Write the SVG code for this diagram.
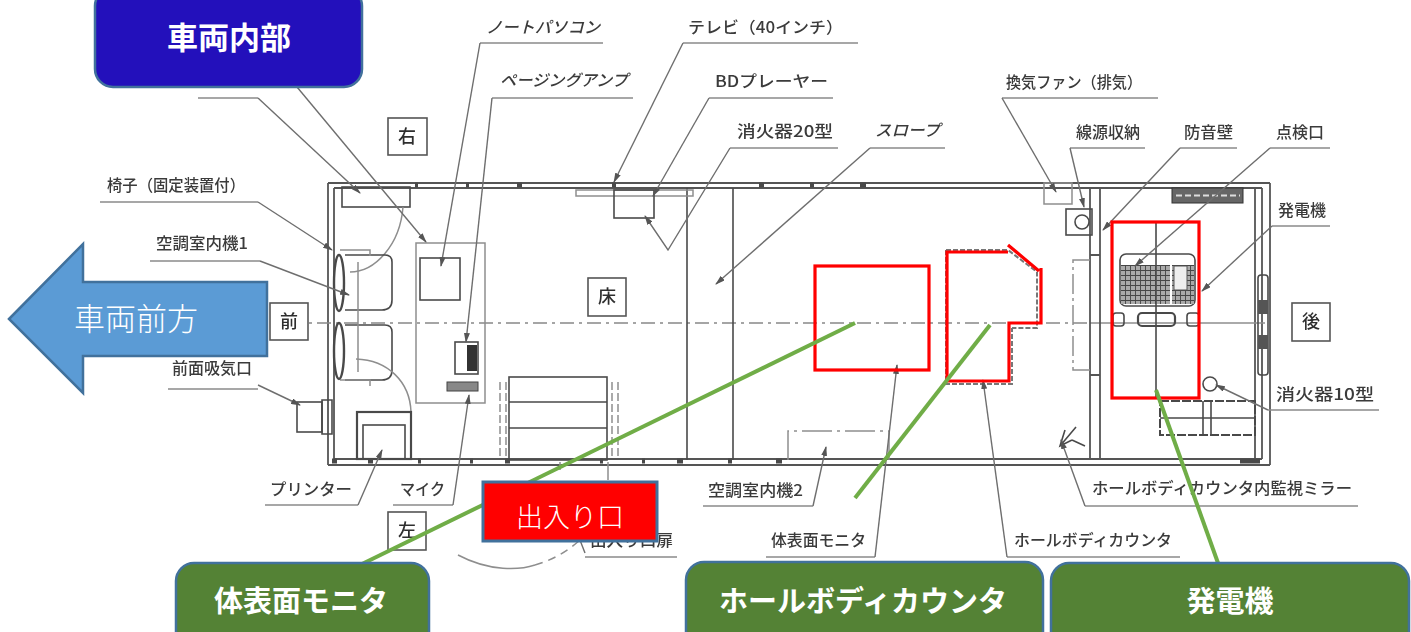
<svg xmlns="http://www.w3.org/2000/svg" width="1411" height="632" viewBox="0 0 1411 632">
<style>
.t{font-family:"Noto Sans CJK JP","Liberation Sans",sans-serif;font-size:16px;fill:#3a3a3a;font-weight:500}
.i{font-style:italic}
.b{font-family:"Noto Sans CJK JP",sans-serif;font-size:18px;fill:#2e2e2e;text-anchor:middle;font-weight:500}
.l{fill:none;stroke:#6e6e6e;stroke-width:1.4}
.u{fill:none;stroke:#8a8a8a;stroke-width:1.6}
.k{fill:none;stroke:#4a4a4a;stroke-width:1.6}
.w{fill:none;stroke:#555;stroke-width:1.8}
.g{fill:none;stroke:#8e8e8e;stroke-width:1.5}
.d{fill:none;stroke:#888;stroke-width:1.5;stroke-dasharray:14 5 3 5}
.box{fill:#fff;stroke:#555;stroke-width:1.6}
.r{fill:none;stroke:#f00;stroke-width:3.2}
.c{stroke:#70ad47;stroke-width:4;fill:none}
.n{fill:#548235;stroke:#41719c;stroke-width:2.5}
.nt{font-family:"Noto Sans CJK JP",sans-serif;font-weight:700;font-size:29px;fill:#fff;text-anchor:middle}
.lt{font-family:"Noto Sans CJK JP",sans-serif;font-weight:300;fill:#fff;text-anchor:middle}
</style>
<defs>
<filter id="s" x="-5%" y="-5%" width="110%" height="110%"><feGaussianBlur stdDeviation="0.7"/></filter>
<marker id="a" viewBox="0 0 10 6" refX="9" refY="3" markerWidth="10" markerHeight="6" orient="auto" markerUnits="userSpaceOnUse"><path d="M0 0L10 3L0 6z" fill="#555"/></marker>
<pattern id="h" width="5" height="5" patternUnits="userSpaceOnUse"><rect width="5" height="5" fill="#aaa"/><path d="M0 0H5M0 0V5" stroke="#444" stroke-width="1.8"/></pattern>
</defs>
<rect width="1411" height="632" fill="#fff"/>

<g id="plan" filter="url(#s)">
<g id="walls">
<path class="w" d="M328 183H1270M334 188H1262M328 183V465M334 188V459M328 465H1270M334 459H1262M1262 188V459M1270 183V465M1255 188V459"/>
<path class="k" d="M415 185h3M466 185h3M517 185h5M612 185h4M759 185h5M810 185h4M860 185h6M332 461h5M368 461h5M418 461h3M470 461h3M505 461h5M600 461h3M642 461h3M677 461h6M728 461h4M776 461h6M1240 461h20" style="stroke-width:5"/>
<path class="d" d="M290 323H1090"/>
<path class="g" d="M1090 323H1265"/>
<path class="k" d="M687 188V460M733 188V460"/>
<path class="w" d="M1090 188V255H1100V188M1090 375H1100V459M1090 375V459M1090 255V375M1100 255V375"/>
<rect class="k" x="1258" y="275" width="10" height="100" rx="3"/>
<rect x="1258" y="300" width="10" height="14" fill="#555"/><rect x="1258" y="335" width="10" height="14" fill="#555"/>
</g>
<g id="equipment">
<rect class="k" x="342" y="187" width="68" height="20"/>
<path class="g" d="M403 207C400 245 375 272 350 272"/>
<path class="k" d="M345 255H385Q392 255 392 262V300Q392 310 382 310H345M345 325H385Q392 325 392 332V370Q392 380 382 380H345"/>
<path class="g" d="M358 262V372M340 250H370V256M340 380H370V386"/>
<ellipse class="k" cx="339" cy="283" rx="5" ry="28" style="stroke-width:2.4"/><ellipse class="k" cx="339" cy="351" rx="5" ry="28" style="stroke-width:2.4"/>
<path class="g" d="M356 359C388 360 410 382 411 412"/>
<rect class="g" x="416" y="243" width="69" height="160"/>
<rect class="k" x="420" y="258" width="40" height="42"/>
<rect class="k" x="455" y="342" width="23" height="32"/><rect x="467" y="345" width="10" height="26" fill="#333"/>
<rect x="447" y="382" width="31" height="9" fill="#888" stroke="#444"/>
<rect class="k" x="297" y="402" width="25" height="30"/><path class="k" d="M322 400V434H332V400z"/>
<rect class="k" x="357" y="412" width="54" height="47" style="stroke-width:2.2"/><rect class="k" x="363" y="425" width="42" height="34"/>
<rect class="k" x="509" y="377" width="98" height="83"/>
<path class="k" d="M509 402H607M509 428H607"/>
<path class="g" style="stroke-dasharray:8 3" d="M500 382V458M506 382V458M612 382V458M618 382V458"/>
<path class="g" d="M458 555C490 572 520 570 535 565"/>
<path class="g" style="stroke-dasharray:8 6" d="M535 565Q560 558 580 540"/>
<path class="g" d="M560 470V462M608 480V462"/>
<rect class="g" x="576" y="190" width="117" height="6"/>
<rect class="k" x="614" y="190" width="40" height="28"/>
<path class="g" style="stroke-dasharray:30 5 3 5" d="M788 460V431H889V460"/>
<path class="g" style="stroke-dasharray:5 2;stroke:#777;stroke-width:2" d="M946 250H1008L1037 272V328H1012M946 250V384H1012V328"/>
<path class="k" d="M1065 430L1060 446L1072 440M1060 446L1076 427M1072 440L1085 446"/>
<rect class="g" x="1044" y="183" width="28" height="21"/>
<rect class="k" x="1066" y="209" width="26" height="26"/><circle class="k" cx="1082" cy="222" r="7"/>
<path class="g" style="stroke-dasharray:20 4 3 4" d="M1090 260H1073V370H1090"/>
<rect x="1172" y="188" width="71" height="15" fill="#666" stroke="#333"/>
<path d="M1176 195.500H1240" stroke="#ddd" stroke-width="2" stroke-dasharray="6 3"/>
<rect class="k" x="1120" y="254" width="75" height="52" rx="6"/>
<rect x="1121" y="265" width="26" height="39" fill="url(#h)"/><rect x="1146" y="265" width="24" height="39" fill="url(#h)"/><rect x="1172" y="265" width="22" height="39" fill="url(#h)"/>
<rect x="1174" y="266" width="13" height="24" fill="#eee" stroke="#555"/>
<path class="k" d="M1156 222V398"/>
<rect class="k" x="1138" y="313" width="37" height="13" rx="4" style="stroke-width:2.2"/><rect class="k" x="1113" y="313" width="11" height="13" rx="3"/><rect class="k" x="1187" y="313" width="12" height="13" rx="3"/>
<rect class="k" x="1160" y="401" width="95" height="34" style="stroke-dasharray:9 2;stroke-width:2"/>
<path class="k" d="M1160 418H1255M1203 401V435M1211 401V435"/>
<circle class="k" cx="1210" cy="384" r="7"/>
</g>
<g id="leaders">
<path class="u" d="M198 98H258M100 202H258M150 261H260M168 389H258M265 505H358M393 505H453M480 43H603M492 98H633M683 43H858M709 98H833M730 148H838M870 148H945M1002 98H1158M1070 148H1145M1180 148H1237M1270 148H1330M1272 226H1330M1268 410H1379M1085 506H1358M1007 557H1180M766 557H875M703 506H813M585 557H677"/>
<path class="l" marker-end="url(#a)" d="M258 98L360 193"/>
<path class="l" marker-end="url(#a)" d="M297 87L426 242"/>
<path class="l" marker-end="url(#a)" d="M258 202L332 250"/>
<path class="l" marker-end="url(#a)" d="M260 261L349 295"/>
<path class="l" marker-end="url(#a)" d="M258 385L300 405"/>
<path class="l" marker-end="url(#a)" d="M358 505L382 450"/>
<path class="l" marker-end="url(#a)" d="M453 505L469 395"/>
<path class="l" marker-end="url(#a)" d="M480 43L441 266"/>
<path class="l" marker-end="url(#a)" d="M492 98L466 342"/>
<path class="l" marker-end="url(#a)" d="M683 43L614 182"/>
<path class="l" marker-end="url(#a)" d="M709 98L653 196"/>
<path class="l" marker-end="url(#a)" d="M730 148L668 250L645 216"/>
<path class="l" marker-end="url(#a)" d="M870 148L716 284"/>
<path class="l" marker-end="url(#a)" d="M1002 98L1056 192"/>
<path class="l" marker-end="url(#a)" d="M1070 148L1084 207"/>
<path class="l" marker-end="url(#a)" d="M1180 148L1103 230"/>
<path class="l" marker-end="url(#a)" d="M1270 148L1135 266"/>
<path class="l" marker-end="url(#a)" d="M1272 226L1202 291"/>
<path class="l" marker-end="url(#a)" d="M1268 410L1216 385"/>
<path class="l" marker-end="url(#a)" d="M1085 506L1061 440"/>
<path class="l" marker-end="url(#a)" d="M1007 557L983 380"/>
<path class="l" marker-end="url(#a)" d="M875 557L897 365"/>
<path class="l" marker-end="url(#a)" d="M813 506L826 447"/>
<path class="l" d="M585 553L578 535"/>
</g>
<g id="labels">
<text class="t i" x="486" y="33" textLength="114" lengthAdjust="spacingAndGlyphs">ノートパソコン</text>
<text class="t i" x="500" y="86" textLength="128" lengthAdjust="spacingAndGlyphs">ページングアンプ</text>
<text class="t" x="688" y="33" textLength="155" lengthAdjust="spacingAndGlyphs">テレビ（40インチ）</text>
<text class="t" x="715" y="87" textLength="113" lengthAdjust="spacingAndGlyphs">BDプレーヤー</text>
<text class="t" x="737" y="137" textLength="96" lengthAdjust="spacingAndGlyphs">消火器20型</text>
<text class="t i" x="875" y="136" textLength="65" lengthAdjust="spacingAndGlyphs">スロープ</text>
<text class="t" x="1006" y="88" textLength="136" lengthAdjust="spacingAndGlyphs">換気ファン（排気）</text>
<text class="t" x="1076" y="138" textLength="64" lengthAdjust="spacingAndGlyphs">線源収納</text>
<text class="t" x="1184" y="138" textLength="49" lengthAdjust="spacingAndGlyphs">防音壁</text>
<text class="t" x="1276" y="138" textLength="48" lengthAdjust="spacingAndGlyphs">点検口</text>
<text class="t" x="1278" y="216" textLength="48" lengthAdjust="spacingAndGlyphs">発電機</text>
<text class="t" x="1276" y="400" textLength="98" lengthAdjust="spacingAndGlyphs">消火器10型</text>
<text class="t" x="1092" y="494" textLength="260" lengthAdjust="spacingAndGlyphs">ホールボディカウンタ内監視ミラー</text>
<text class="t" x="1014" y="546" textLength="158" lengthAdjust="spacingAndGlyphs">ホールボディカウンタ</text>
<text class="t" x="771" y="546" textLength="95" lengthAdjust="spacingAndGlyphs">体表面モニタ</text>
<text class="t" x="708" y="496" textLength="95" lengthAdjust="spacingAndGlyphs">空調室内機2</text>
<text class="t" x="270" y="495" textLength="82" lengthAdjust="spacingAndGlyphs">プリンター</text>
<text class="t" x="400" y="495" textLength="45" lengthAdjust="spacingAndGlyphs">マイク</text>
<text class="t" x="590" y="546" textLength="83" lengthAdjust="spacingAndGlyphs">出入り口扉</text>
<text class="t" x="172" y="374" textLength="80" lengthAdjust="spacingAndGlyphs">前面吸気口</text>
<text class="t" x="156" y="249" textLength="92" lengthAdjust="spacingAndGlyphs">空調室内機1</text>
<text class="t" x="107" y="191" textLength="138" lengthAdjust="spacingAndGlyphs">椅子（固定装置付）</text>
<rect class="box" x="388" y="118" width="39" height="37"/><text class="b" x="407" y="143">右</text>
<rect class="box" x="270" y="303" width="38" height="37"/><text class="b" x="289" y="328">前</text>
<rect class="box" x="588" y="278" width="38" height="38"/><text class="b" x="607" y="303">床</text>
<rect class="box" x="1292" y="303" width="38" height="38"/><text class="b" x="1311" y="328">後</text>
<rect class="box" x="388" y="512" width="38" height="38"/><text class="b" x="407" y="537">左</text>
</g>
</g>

<g id="highlights">
<rect class="r" x="815" y="266" width="114" height="104"/>
<path class="r" d="M1008 252H947V381H1009V323H1041V268M1008 245L1039 271"/>
<rect class="r" x="1112" y="222" width="87" height="176"/>
</g>

<g id="connectors">
<path class="c" d="M362 564L855 323"/>
<path class="c" d="M855 498L990 325"/>
<path class="c" d="M1218 563L1156 390"/>
</g>

<g id="node-interior"><rect x="95" y="-12" width="267" height="99" rx="18" fill="#2310bb" stroke="#41719c" stroke-width="2.5"/><text class="nt" x="229" y="49" style="font-size:31px">車両内部</text></g>
<g id="node-front"><path d="M9 319L83 244V282H267V356H83V393z" fill="#5b9bd5" stroke="#41719c" stroke-width="2.500"/><text class="lt" x="136" y="330" style="font-size:31px">車両前方</text></g>
<g id="node-entrance"><rect x="483" y="482" width="174" height="59" fill="#f00" stroke="#41719c" stroke-width="3"/><text class="lt" x="570" y="527" style="font-size:27px">出入り口</text></g>
<g id="node-monitor"><rect class="n" x="176" y="563" width="253" height="90" rx="18"/><text class="nt" x="301" y="612">体表面モニタ</text></g>
<g id="node-counter"><rect class="n" x="686" y="562" width="357" height="90" rx="18"/><text class="nt" x="863" y="612">ホールボディカウンタ</text></g>
<g id="node-generator"><rect class="n" x="1051" y="563" width="358" height="90" rx="18"/><text class="nt" x="1230" y="612">発電機</text></g>
</svg>
